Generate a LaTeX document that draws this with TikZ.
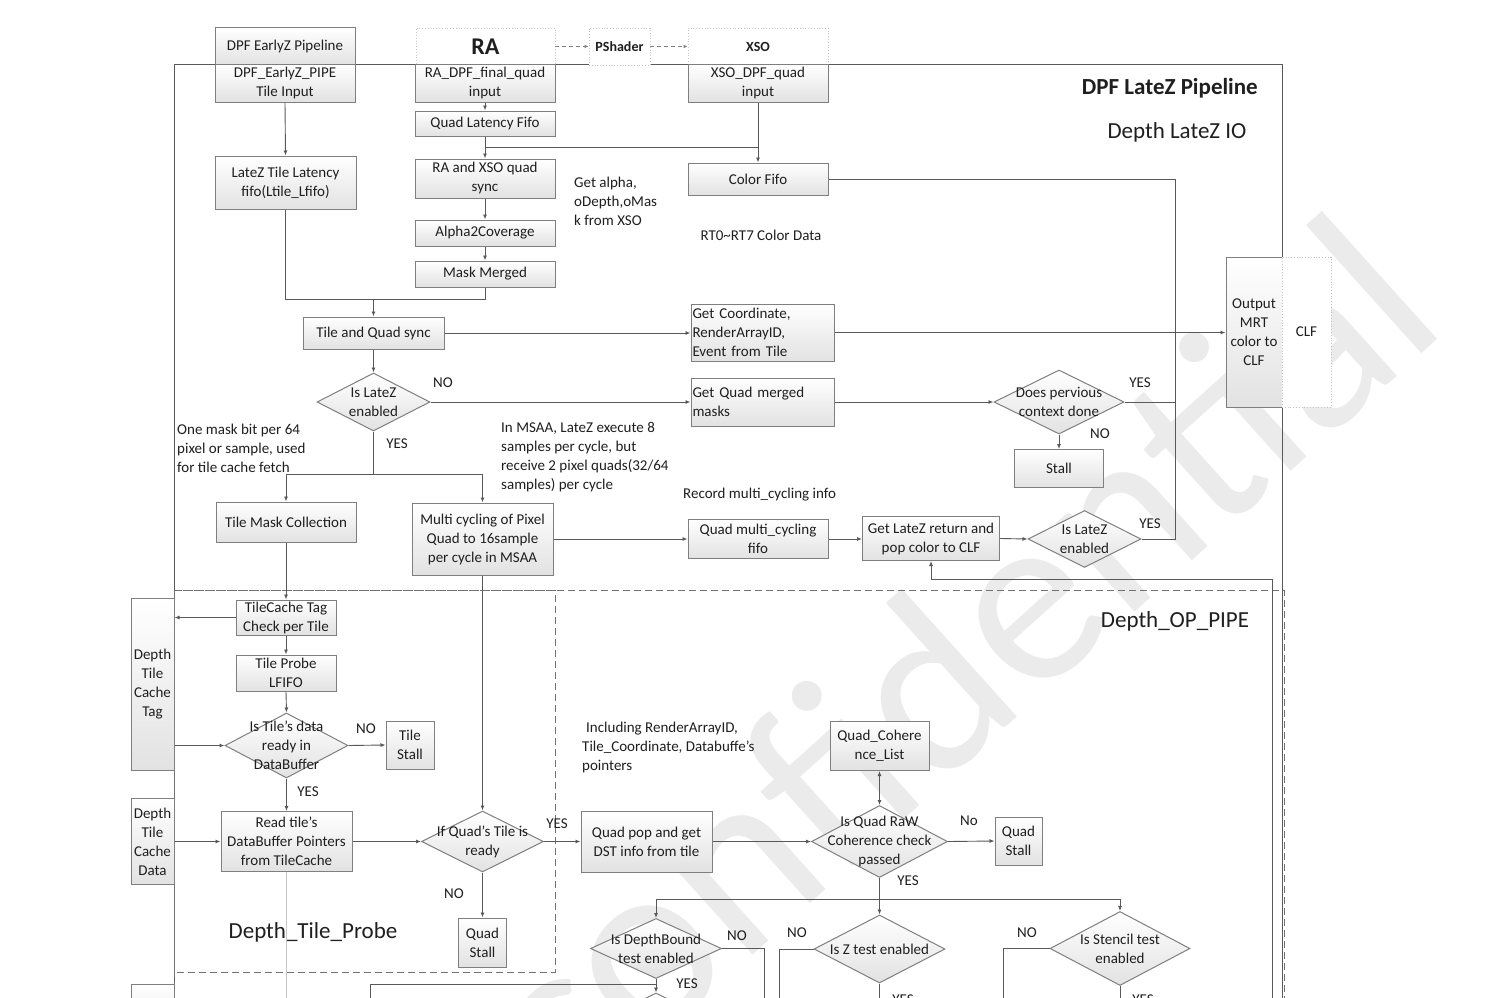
\documentclass[tikz,border=0pt]{standalone}
\usepackage{fontspec}
\setmainfont{Carlito}
\usetikzlibrary{shapes.geometric,arrows.meta}
\definecolor{bord}{HTML}{7F7F7F}
\definecolor{lncol}{HTML}{595959}
\definecolor{bx}{HTML}{E2E2E2}
\definecolor{txt}{HTML}{1F1F1F}
\definecolor{dotc}{HTML}{C4C4C4}
\definecolor{wm}{HTML}{EBEBEB}
\tikzset{
  bf/.style={font=\fontsize{15}{19}\selectfont},
  box/.style={draw=bord, line width=1pt, top color=white, bottom color=bx, text=txt, align=center, inner sep=0pt, bf},
  lbox/.style={box, align=left},
  dia/.style={diamond, draw=bord, line width=1pt, top color=white, bottom color=bx, inner sep=0pt},
  dtxt/.style={align=center, text=txt, bf},
  conn/.style={draw=lncol, line width=0.9pt},
  arr/.style={conn, -{Latex[length=5pt,width=4pt]}},
  darr/.style={conn, {Latex[length=5pt,width=4pt]}-{Latex[length=5pt,width=4pt]}},
  dasharr/.style={draw=gray, line width=0.8pt, dash pattern=on 4pt off 3pt, -{Latex[length=4pt,width=3.5pt]}},
  lab/.style={text=txt, bf, inner sep=0pt},
  note/.style={text=txt, bf, inner sep=0pt, anchor=west, align=left},
  dotbox/.style={draw=dotc, dotted, line width=0.8pt, fill=white, inner sep=0pt, text=txt},
  big/.style={font=\fontsize{23}{27}\selectfont, text=txt, inner sep=0pt},
  dashbox/.style={draw=lncol!85, line width=1pt, dash pattern=on 7pt off 4pt},
  frame/.style={draw=lncol, line width=1pt},
}
\begin{document}
\begin{tikzpicture}[x=1pt,y=-1pt]
\useasboundingbox (0,0) rectangle (1492,998);
\clip (0,0) rectangle (1492,998);
\fill[white] (0,0) rectangle (1492,998);

% watermark
\node[rotate=42, text=wm, font=\fontsize{248}{248}\selectfont, inner sep=0pt] (wmk) at (952,662) {confidential};

% containers
\draw[frame] (174,1010) -- (174,65) -- (1282,65) -- (1282,1010);
\draw[dashbox] (174,1010) -- (174,590) -- (1284,590) -- (1284,1010);
\draw[dashbox] (174,590) rectangle (555,972);

% titles
\node[font=\fontsize{23}{27}\selectfont\bfseries, text=txt, anchor=east, inner sep=0pt] (ttl) at (1258,88) {DPF LateZ Pipeline};
\node[big] (io) at (1177,132) {Depth LateZ IO};
\node[big] (op) at (1175,621) {Depth\_OP\_PIPE};
\node[big] (tp) at (313,932) {Depth\_Tile\_Probe};

% top inputs
\node[box, minimum width=140, minimum height=37] (ezp) at (285,46.5) {DPF EarlyZ Pipeline};
\node[box, minimum width=140, minimum height=37] (ezin) at (285,83.5) {DPF\_EarlyZ\_PIPE\\Tile Input};
\node[dotbox, minimum width=139, minimum height=37, font=\fontsize{24}{28}\selectfont\bfseries] (ra) at (485.5,46.5) {RA};
\node[box, minimum width=140, minimum height=37] (rain) at (485,83.5) {RA\_DPF\_final\_quad\\input};
\node[dotbox, minimum width=61, minimum height=37, font=\fontsize{14}{17}\selectfont\bfseries] (ps) at (619.5,46.5) {PShader};
\node[dotbox, minimum width=140, minimum height=37, font=\fontsize{14}{17}\selectfont\bfseries] (xso) at (758,46.5) {XSO};
\node[box, minimum width=140, minimum height=37] (xsoin) at (758,83.5) {XSO\_DPF\_quad\\input};

% LateZ IO column
\node[box, minimum width=140, minimum height=25] (qlf) at (485,123.5) {Quad Latency Fifo};
\node[box, minimum width=141, minimum height=53] (ltlf) at (285.5,182.5) {LateZ Tile Latency\\fifo(Ltile\_Lfifo)};
\node[box, minimum width=140, minimum height=39] (sync) at (485,178.5) {RA and XSO quad\\sync};
\node[box, minimum width=140, minimum height=32] (cf) at (758,179) {Color Fifo};
\node[box, minimum width=140, minimum height=26] (a2c) at (485,233) {Alpha2Coverage};
\node[box, minimum width=140, minimum height=26] (mm) at (485,274) {Mask Merged};
\node[box, minimum width=141, minimum height=32] (tqs) at (373.5,333) {Tile and Quad sync};
\node[lbox, minimum width=143, minimum height=57, text width=140] (gc) at (762.5,332.5) {Get Coordinate,\\RenderArrayID,\\Event from Tile};
\node[box, minimum width=56, minimum height=150] (out) at (1254,332) {Output\\MRT\\color to\\CLF};
\node[dotbox, minimum width=49, minimum height=150, bf] (clf) at (1306.5,332) {CLF};
\node[dia, minimum width=113, minimum height=58, label={[dtxt]center:Is LateZ\\enabled}] (d1) at (373.5,402) {};
\node[lbox, minimum width=143, minimum height=48, text width=140] (gq) at (762.5,402) {Get Quad merged\\masks};
\node[dia, minimum width=130, minimum height=64, label={[dtxt]center:Does pervious\\context done}] (d2) at (1059,402) {};
\node[box, minimum width=89, minimum height=38] (stall) at (1059,468.5) {Stall};
\node[box, minimum width=140, minimum height=40] (tmc) at (286,522) {Tile Mask Collection};
\node[box, minimum width=141, minimum height=72] (mc) at (482.5,539) {Multi cycling of Pixel\\Quad to 16sample\\per cycle in MSAA};
\node[box, minimum width=140, minimum height=39] (qmf) at (758,539) {Quad multi\_cycling\\fifo};
\node[box, minimum width=137, minimum height=44] (glr) at (931,538.5) {Get LateZ return and\\pop color to CLF};
\node[dia, minimum width=113, minimum height=57, label={[dtxt]center:Is LateZ\\enabled}] (d3) at (1084.5,539) {};

% Tile probe
\node[box, minimum width=43, minimum height=172] (tag) at (152.5,684.5) {Depth\\Tile\\Cache\\Tag};
\node[box, minimum width=43, minimum height=86] (data) at (152.5,841.5) {Depth\\Tile\\Cache\\Data};
\node[box, minimum width=43, minimum height=60] (bl) at (152.5,1014) {};
\node[box, minimum width=100, minimum height=35] (tct) at (286,617.5) {TileCache Tag\\Check per Tile};
\node[box, minimum width=100, minimum height=36] (tpl) at (286,673) {Tile Probe\\LFIFO};
\node[dia, minimum width=123, minimum height=65, label={[dtxt]center:Is Tile's data\\ready in\\DataBuffer}] (d4) at (286.5,745.5) {};
\node[box, minimum width=48, minimum height=48] (ts) at (410,745) {Tile\\Stall};
\node[box, minimum width=131, minimum height=60] (rtp) at (286.5,841.5) {Read tile's\\DataBuffer Pointers\\from TileCache};
\node[dia, minimum width=122, minimum height=61, label={[dtxt]center:If Quad's Tile is\\ready}] (d5) at (482.5,841.5) {};
\node[box, minimum width=48, minimum height=49] (qs1) at (482.5,942.5) {Quad\\Stall};

% OP pipe
\node[box, minimum width=131, minimum height=61] (qp) at (646.5,841.5) {Quad pop and get\\DST info from tile};
\node[box, minimum width=99, minimum height=49] (qcl) at (879.5,746) {Quad\_Cohere\\nce\_List};
\node[dia, minimum width=136, minimum height=72, label={[dtxt]center:Is Quad RaW\\Coherence check\\passed}] (d6) at (879.5,841.5) {};
\node[box, minimum width=47, minimum height=48] (qs2) at (1018.5,841) {Quad\\Stall};
\node[dia, minimum width=131, minimum height=60, label={[dtxt]center:Is DepthBound\\test enabled}] (d7) at (656,948.5) {};
\node[dia, minimum width=131, minimum height=68, label={[dtxt]center:Is Z test enabled}] (d8) at (879.5,949) {};
\node[dia, minimum width=140, minimum height=74, label={[dtxt]center:Is Stencil test\\enabled}] (d9) at (1120,948.5) {};
\node[dia, minimum width=131, minimum height=64] (d10) at (656,1025) {};

% notes
\node[note] (n1) at (574,201) {Get alpha,\\oDepth,oMas\\k from XSO};
\node[lab] (n2) at (761,235) {RT0\textasciitilde RT7 Color Data};
\node[note] (n3) at (177,448) {One mask bit per 64\\pixel or sample, used\\for tile cache fetch};
\node[note] (n4) at (501,457.5) {In MSAA, LateZ execute 8\\samples per cycle, but\\receive 2 pixel quads(32/64\\samples) per cycle};
\node[note] (n5) at (683,495) {Record multi\_cycling info};
\node[note] (n6) at (582,747) {\hspace{4pt}Including RenderArrayID,\\Tile\_Coordinate, Databuffe's\\pointers};

% yes/no labels
\node[lab] (l1) at (443,383) {NO};
\node[lab] (l2) at (397,444) {YES};
\node[lab] (l3) at (1140,383) {YES};
\node[lab] (l4) at (1100,434) {NO};
\node[lab] (l5) at (1150,524) {YES};
\node[lab] (l6) at (366,729) {NO};
\node[lab] (l7) at (308,792) {YES};
\node[lab] (l8) at (557,824) {YES};
\node[lab] (l9) at (454,894) {NO};
\node[lab] (l10) at (969,821) {No};
\node[lab] (l11) at (908,881) {YES};
\node[lab] (l12) at (737,936) {NO};
\node[lab] (l13) at (687,984) {YES};
\node[lab] (l14) at (797,933) {NO};
\node[lab] (l15) at (903,1000) {YES};
\node[lab] (l16) at (1027,933) {NO};
\node[lab] (l17) at (1143,1000) {YES};

% helper coordinates
\coordinate (j1) at (0,147);
\coordinate (j2) at (0,299);
\coordinate (j4) at (0,474);
\coordinate (j5) at (0,899);
\coordinate (rx) at (1175,0);
\coordinate (rb) at (1272,1010);
\coordinate (rt) at (1272,579);
\coordinate (bj) at (656,984);
\coordinate (bl1) at (370,1010);
\coordinate (v1) at (764,1010);
\coordinate (v2) at (779,1010);
\coordinate (v3) at (1003,1010);

% connectors top
\draw[dasharr] (ra.east) -- (ps.west);
\draw[dasharr] (ps.east) -- (xso.west);
\draw[arr] (ezin.south) -- (ltlf.north);
\draw[arr] (rain.south) -- (qlf.north);
\draw[arr] (qlf.south) -- (sync.north);
\draw[conn] (qlf.south |- j1) -- (xsoin.south |- j1);
\draw[arr] (xsoin.south) -- (cf.north);
\draw[arr] (sync.south) -- (a2c.north);
\draw[arr] (a2c.south) -- (mm.north);
\draw[conn] (ltlf.south) |- (mm.south |- j2) -- (mm.south);
\draw[arr] (tqs.north |- j2) -- (tqs.north);
\draw[arr] (tqs.east) -- (gc.west |- tqs.east);
\draw[arr] (gc.east) -- (out.west |- gc.east);
\draw[arr] (tqs.south) -- (d1.north);
\draw[arr] (d1.east) -- (gq.west);
\draw[arr] (gq.east) -- (d2.west);
\draw[arr] (d2.south) -- (stall.north);
\draw[conn] (cf.east) -| (rx |- d3.east) -- (d3.east);
\draw[conn] (d2.east) -- (rx |- d2.east);
\draw[conn] (d1.south) -- (d1.south |- j4);
\draw[conn] (tmc.north |- j4) -- (mc.north |- j4);
\draw[arr] (tmc.north |- j4) -- (tmc.north);
\draw[arr] (mc.north |- j4) -- (mc.north);
\draw[arr] (mc.east) -- (qmf.west);
\draw[arr] (qmf.east) -- (glr.west |- qmf.east);
\draw[arr] (glr.east) -- (d3.west);
\draw[arr] (rb) -- (rt) -| (glr.south);

% tile probe connectors
\draw[arr] (tmc.south) -- (tct.north);
\draw[arr] (tct.west) -- (tct.west -| tag.east);
\draw[arr] (tct.south) -- (tpl.north);
\draw[arr] (tpl.south) -- (d4.north);
\draw[arr] (tag.east |- d4.west) -- (d4.west);
\draw[arr] (d4.east) -- (ts.west);
\draw[arr] (d4.south) -- (rtp.north);
\draw[arr] (data.east |- rtp.west) -- (rtp.west);
\draw[arr] (rtp.east) -- (d5.west);
\draw[arr] (mc.south) -- (d5.north);
\draw[arr] (d5.south) -- (qs1.north);
\draw[arr] (d5.east) -- (qp.west);
\draw[draw=gray!45, line width=0.6pt] (rtp.south) -- (rtp.south |- bl1);

% OP connectors
\draw[arr] (qp.east) -- (d6.west);
\draw[arr] (d6.east) -- (qs2.west);
\draw[darr] (qcl.south) -- (d6.north);
\draw[conn] (d6.south) -- (d6.south |- j5);
\draw[conn] (d7.north |- j5) -- (d9.north |- j5);
\draw[arr] (d7.north |- j5) -- (d7.north);
\draw[arr] (d8.north |- j5) -- (d8.north);
\draw[arr] (d9.north |- j5) -- (d9.north);
\draw[conn] (d7.east) -| (v1);
\draw[conn] (d8.west) -| (v2);
\draw[conn] (d9.west) -| (v3);
\draw[arr] (d7.south) -- (d10.north);
\draw[conn] (bl1) |- (bj);
\draw[conn] (d8.south) -- ++(0,30);
\draw[conn] (d9.south) -- ++(0,30);
\end{tikzpicture}
\end{document}
